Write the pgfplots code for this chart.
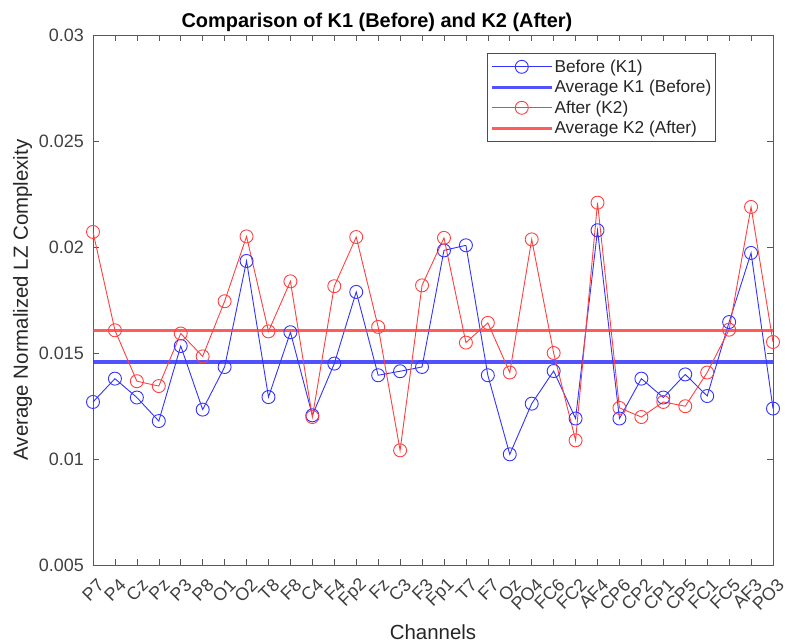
\documentclass[border=0pt]{standalone}
\usepackage{fontspec}
\setmainfont{Liberation Sans}
\usepackage{pgfplots}
\usepackage{pgfplotstable}
\pgfplotsset{compat=1.18}

% channel index, K1 (before), K2 (after)
\pgfplotstableread{
idx k1 k2
1 0.01269 0.02071
2 0.01379 0.01607
3 0.01290 0.01367
4 0.01179 0.01344
5 0.01533 0.01592
6 0.01233 0.01484
7 0.01434 0.01744
8 0.01934 0.02050
9 0.01292 0.01602
10 0.01598 0.01838
11 0.01206 0.01198
12 0.01450 0.01815
13 0.01788 0.02047
14 0.01395 0.01623
15 0.01414 0.01041
16 0.01434 0.01819
17 0.01984 0.02043
18 0.02008 0.01549
19 0.01395 0.01642
20 0.01022 0.01408
21 0.01261 0.02036
22 0.01415 0.01500
23 0.01191 0.01088
24 0.02079 0.02209
25 0.01191 0.01241
26 0.01379 0.01198
27 0.01290 0.01269
28 0.01399 0.01249
29 0.01297 0.01408
30 0.01646 0.01610
31 0.01972 0.02189
32 0.01238 0.01552
}\lzdata

\definecolor{axgray}{gray}{0.35}
\definecolor{lblue}{rgb}{0.2,0.2,1}
\definecolor{lred}{rgb}{1,0.25,0.25}

\begin{document}
\begin{tikzpicture}
\begin{axis}[
  scale only axis, width=680bp, height=530bp,
  xmin=1, xmax=32, ymin=0.005, ymax=0.03,
  xtick={1,...,32},
  xticklabels={P7,P4,Cz,Pz,P3,P8,O1,O2,T8,F8,C4,F4,Fp2,Fz,C3,F3,Fp1,T7,F7,Oz,PO4,FC6,FC2,AF4,CP6,CP2,CP1,CP5,FC1,FC5,AF3,PO3},
  ytick={0.005,0.01,0.015,0.02,0.025,0.03},
  scaled y ticks=false,
  yticklabel style={/pgf/number format/fixed, /pgf/number format/precision=3},
  /pgf/number format/assume math mode=true,
  tick align=inside, major tick length=6bp,
  axis line style={axgray, line width=0.8bp},
  every tick/.style={axgray, line width=0.6bp},
  tick label style={font=\fontsize{18}{21}\selectfont, text=black!75},
  xticklabel style={xshift=8bp, yshift=-17bp, rotate=45, anchor=east, inner sep=0pt},
  yticklabel style={inner sep=0pt, xshift=-9bp},
  label style={font=\fontsize{20.5}{24}\selectfont, text=black!85},
  xlabel={Channels},
  xlabel style={at={(rel axis cs:0.5,0)}, anchor=base, inner sep=0pt, yshift=-74bp},
  ylabel={Average Normalized LZ Complexity},
  ylabel style={at={(rel axis cs:0,0.5)}, anchor=north, inner sep=0pt, yshift=80bp},
  title={Comparison of K1 (Before) and K2 (After)},
  title style={at={(rel axis cs:0.4176,1)}, anchor=base, inner sep=0pt, yshift=2bp,
    font=\bfseries\fontsize{20}{24}\selectfont},
  legend style={at={(rel axis cs:0.579,0.966)}, anchor=north west,
    draw=black!70, line width=0.6bp, fill=white,
    font=\fontsize{17.3}{20}\selectfont, text=black!85,
    inner xsep=3bp, inner ysep=5.5bp, row sep=4.5bp,
    nodes={inner sep=1bp}},
  legend cell align=left,
  legend image code/.code={%
    \draw[mark repeat=2, mark phase=2] plot coordinates {(0bp,0bp) (30bp,0bp) (60bp,0bp)};},
]
\addplot[lblue, line width=0.9bp, mark=o, mark size=6.5bp, mark options={line width=0.9bp}]
  table[x=idx, y=k1] {\lzdata};
\addlegendentry{Before (K1)}
\addplot[lblue, line width=3.5bp, opacity=0.85] coordinates {(1,0.01458) (32,0.01458)};
\addlegendentry{Average K1 (Before)}
\addplot[lred, line width=0.9bp, mark=o, mark size=6.5bp, mark options={line width=0.9bp}]
  table[x=idx, y=k2] {\lzdata};
\addlegendentry{After (K2)}
\addplot[lred, line width=3.5bp, opacity=0.85] coordinates {(1,0.01607) (32,0.01607)};
\addlegendentry{Average K2 (After)}
\end{axis}
\pgfresetboundingbox
\path ([shift={(-93bp,-78bp)}]current axis.south west) rectangle ([shift={(12bp,35bp)}]current axis.north east);
\end{tikzpicture}
\end{document}
